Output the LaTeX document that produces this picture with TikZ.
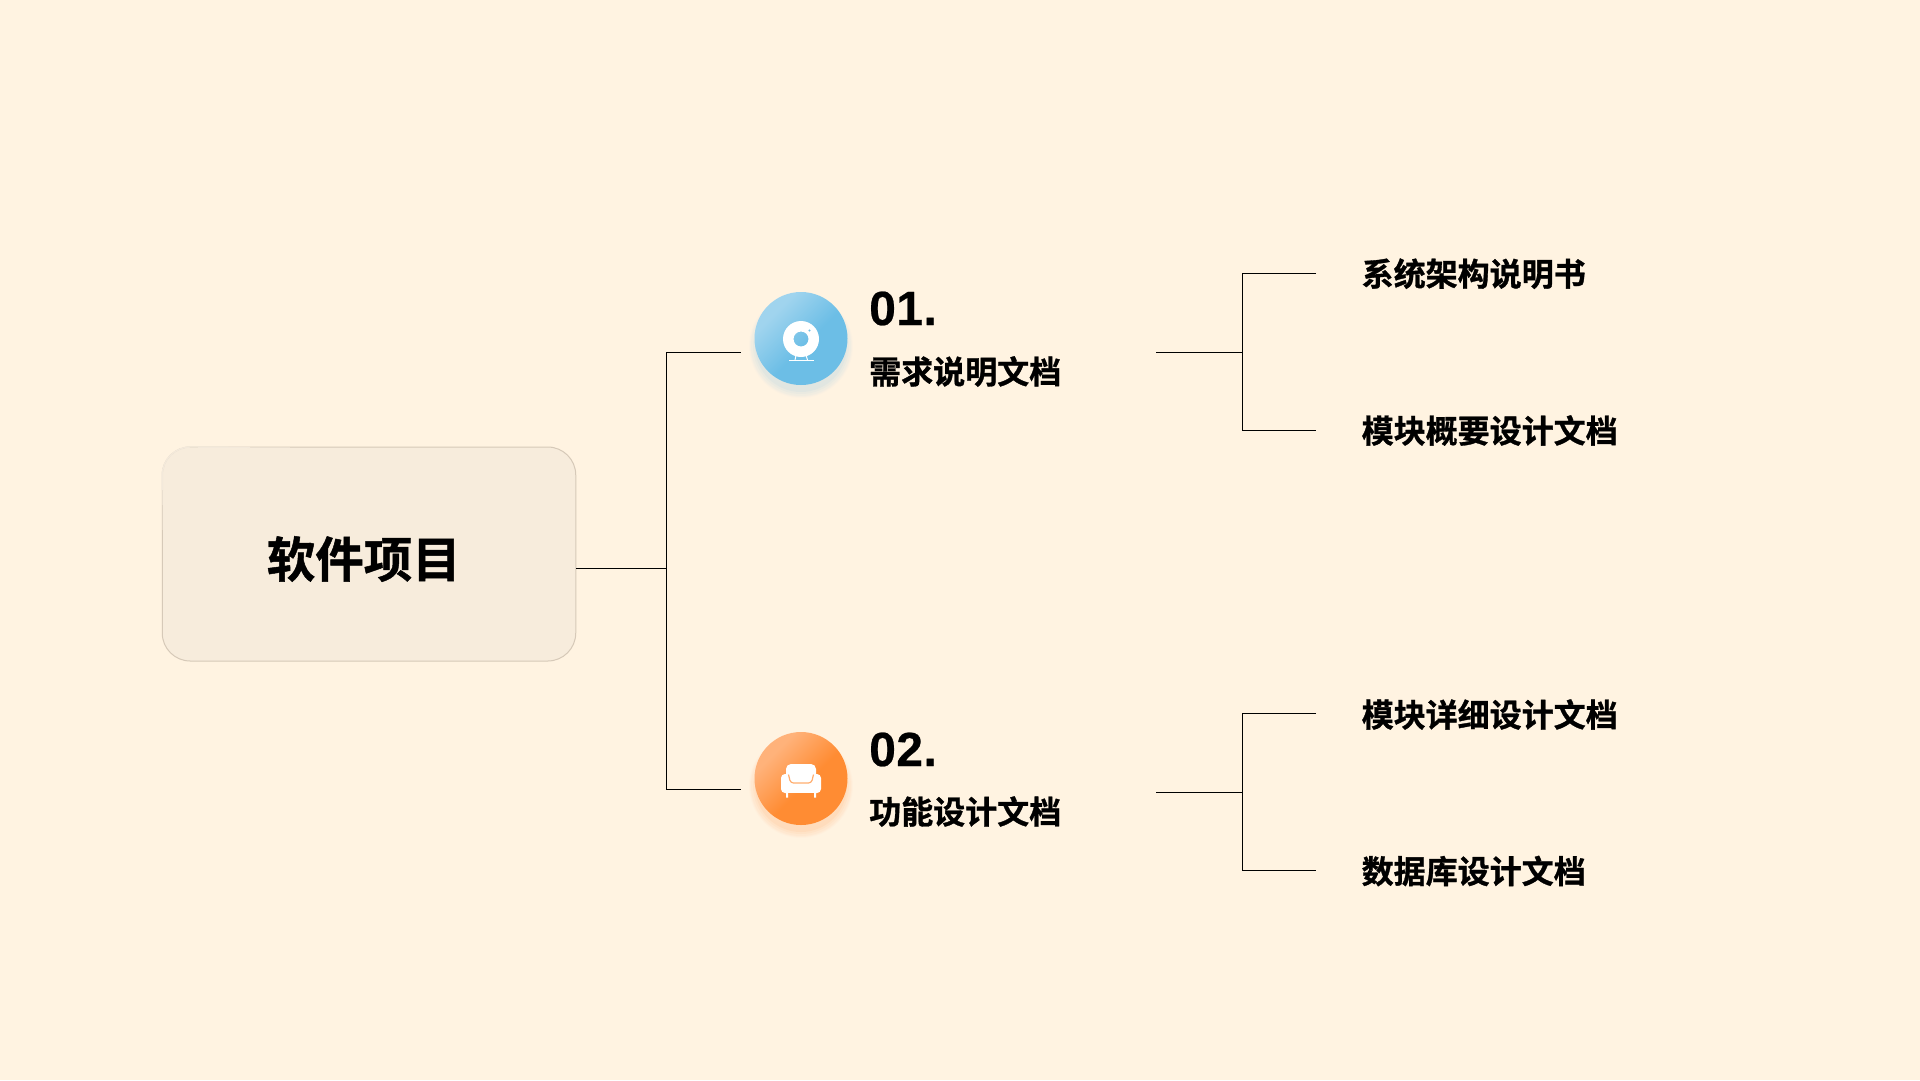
\documentclass[tikz,border=0pt]{standalone}
\usepackage{fontspec}
\setmainfont{Liberation Sans}
\newfontfamily\cjkb[FakeBold=1]{Noto Sans CJK SC Bold}
\newfontfamily\numf[LetterSpace=1.0,FakeBold=0.5]{Liberation Sans Bold}
\usetikzlibrary{fadings,calc}
\definecolor{bgc}{HTML}{FFF3E1}
\definecolor{boxc}{HTML}{F7ECDC}
\definecolor{edgec}{HTML}{D6C9B8}
\definecolor{edgelight}{HTML}{F3E9DB}
\definecolor{bluea}{HTML}{A0D4EE}
\definecolor{blueb}{HTML}{6CBEE6}
\definecolor{orangea}{HTML}{FFB27A}
\definecolor{orangeb}{HTML}{FF8C33}
\pgfdeclarehorizontalshading{bluedisc}{100bp}{color(0bp)=(bluea);color(30bp)=(bluea);color(54bp)=(blueb);color(100bp)=(blueb)}
\pgfdeclarehorizontalshading{orangedisc}{100bp}{color(0bp)=(orangea);color(30bp)=(orangea);color(54bp)=(orangeb);color(100bp)=(orangeb)}
\tikzset{
  linkline/.style={black,line width=1pt},
  headnum/.style={font=\numf\fontsize{48}{48}\selectfont,anchor=base west,inner sep=0pt,black},
  subtitle/.style={font=\cjkb\fontsize{32}{32}\selectfont,anchor=west,inner sep=0pt,black},
  leaftext/.style={font=\cjkb\fontsize{32}{32}\selectfont,anchor=west,inner sep=0pt,black},
  disc/.style={circle,minimum size=93pt,inner sep=0pt},
}
\newcommand{\discshadow}[3]{%
  \foreach \r/\o in {52/.02,51/.03,50/.04,48/.05,46/.07}{%
    \fill[#3,opacity=\o] (#1,#2+8) circle (\r pt);}%
}
\begin{document}
\begin{tikzpicture}[x=1pt,y=-1pt]
\useasboundingbox (0,0) rectangle (1920,1080);
\fill[bgc] (0,0) rectangle (1920,1080);
% centre box
\node[draw=edgec,line width=1pt,fill=boxc,rounded corners=28pt,minimum width=413.5pt,minimum height=214pt,inner sep=0pt] (root) at (369,554) {};
% lighter edge at the top left, fading into the darker edge
\draw[edgelight!35!edgec,line width=1.4pt] (162.3,530) -- (162.3,505);
\draw[edgelight!65!edgec,line width=1.4pt] (162.3,505) -- (162.3,490);
\draw[edgelight!35!edgec,line width=1.4pt] (290,447.3) -- (340,447.3);
\draw[edgelight!65!edgec,line width=1.4pt] (250,447.3) -- (290,447.3);
\draw[edgelight,line width=1.4pt] (162.3,490) -- (162.3,475) arc[start angle=180,end angle=90,radius=28pt] -- (250,447.3);
\node[font=\cjkb\fontsize{48.5}{48.5}\selectfont,inner sep=0pt,black] (roottext) at (363.8,559) {软件项目};
% junctions and free ends
\coordinate (rootout) at (root.east |- 0,568);
\coordinate (j0) at (666,568);
\coordinate (e1) at (740.5,352);
\coordinate (e2) at (740.5,789);
\coordinate (s1) at (1156,352.5);
\coordinate (j1) at (1242,352.5);
\coordinate (e11) at (1316,273.5);
\coordinate (e12) at (1316,430.5);
\coordinate (s2) at (1156,792.5);
\coordinate (j2) at (1242,792.5);
\coordinate (e21) at (1316,713.5);
\coordinate (e22) at (1316,870.5);
\draw[linkline] (rootout) -- (j0);
\draw[linkline] (e1) -- (e1 -| j0) -- (e2 -| j0) -- (e2);
\draw[linkline] (s1) -- (j1);
\draw[linkline] (e11) -- (e11 -| j1) -- (e12 -| j1) -- (e12);
\draw[linkline] (s2) -- (j2);
\draw[linkline] (e21) -- (e21 -| j2) -- (e22 -| j2) -- (e22);
% discs
\discshadow{801}{338}{blueb}
\discshadow{801}{778}{orangeb}
\node[disc,shading=bluedisc,shading angle=-45] (d1) at (801,338.5) {};
\node[disc,shading=orangedisc,shading angle=-45] (d2) at (801,778.5) {};
% webcam icon
\fill[white,even odd rule] (801,339) circle (18pt) (801,339) circle (7.5pt);
\fill[blueb] (809.5,330.5) circle (1.1pt);
\draw[white,line width=1.2pt] (789,360.3) -- (814,360.3);
\draw[white,line width=1pt] (796,355) -- (795,360) (806,355) -- (807.5,360);
% sofa icon
\fill[white,rounded corners=5pt] (786,764) rectangle (816,790);
\fill[white,rounded corners=4pt] (781,774) rectangle (791,793);
\fill[white,rounded corners=4pt] (811,774) rectangle (821,793);
\fill[white] (785,783) rectangle (817,793);
\fill[white] (786,792) rectangle (788,797.5) (814,792) rectangle (816,797.5);
\draw[orangeb!70!white,line width=1.2pt,rounded corners=3pt] (788.5,774.5) -- (790.5,783) -- (811.5,783) -- (813.5,774.5);
% texts
\node[headnum] (n1) at (869,325) {01.};
\node[subtitle] (t1) at (869,371.5) {需求说明文档};
\node[headnum] (n2) at (869,766) {02.};
\node[subtitle] (t2) at (869,811.5) {功能设计文档};
\node[leaftext] (l1) at (1361.5,273.7) {系统架构说明书};
\node[leaftext] (l2) at (1361.5,430.5) {模块概要设计文档};
\node[leaftext] (l3) at (1361.5,714.5) {模块详细设计文档};
\node[leaftext] (l4) at (1361.5,871) {数据库设计文档};
\end{tikzpicture}
\end{document}
